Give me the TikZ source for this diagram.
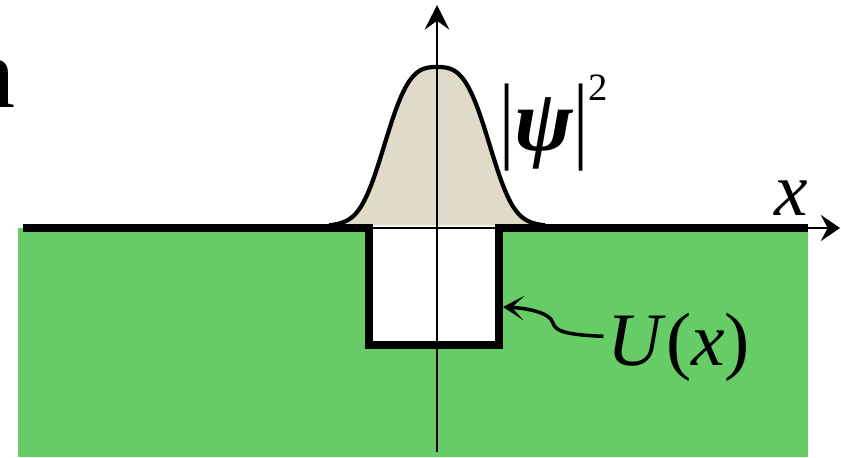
\documentclass[tikz,border=0pt]{standalone}
\usepackage{fontspec}
\setmainfont{Liberation Serif}
\usetikzlibrary{arrows.meta}
\definecolor{wellGreen}{RGB}{102,204,102}
\definecolor{probBeige}{RGB}{224,219,200}
\tikzset{
  wall/.style={line width=4pt, line join=miter},
  bigtext/.style={inner sep=0pt, font=\fontsize{43}{50}\selectfont},
  axisline/.style={line width=0.8pt},
}
\newcommand{\bell}[1]{161*(0.85*exp(-(abs(#1/59)+0.0001)^3.3)+0.15*exp(-(#1/72)^2))}
\newcommand{\tallbar}{\scalebox{1}[1.27]{|}}
\begin{document}
\begin{tikzpicture}[x=0.02cm, y=-0.02cm]
    \useasboundingbox (0,0) rectangle (841,457);
    % Cut-off word at the left edge
    \node[inner sep=0pt, font=\fontsize{57}{64}\selectfont, anchor=base east] (word) at (16,107) {n};
    % Green region and the well
    \fill[wellGreen] (18,228) rectangle (808,457);
    \fill[white] (369,228) rectangle (499,345);
    % Probability density
    \fill[probBeige] plot[domain=-108:108, samples=109] ({437+\x},{228-\bell{\x}}) -- cycle;
    \draw[line width=2.4pt] plot[domain=-108:108, samples=109] ({437+\x},{228-\bell{\x}});
    % Axes
    \coordinate (xleft) at (23,228);
    \coordinate (xright) at (840,228);
    \coordinate (ybot) at (437,452);
    \coordinate (ytop) at (437,5);
    \draw[axisline, -{Stealth[length=11pt,width=15pt,inset=4pt]}] (xleft) -- (xright);
    \draw[axisline, -{Stealth[length=14pt,width=14pt,inset=5pt]}] (ybot) -- (ytop);
    % Potential U(x)
    \draw[wall] (23,228) -- (369,228) -- (369,345) -- (499,345) -- (499,228) -- (808,228);
    % Labels
    \node[bigtext, anchor=base west] (psilabel) at (499,150)
      {\tallbar{\fontsize{50}{56}\selectfont\textbf{\textit{ψ}}}\tallbar\raisebox{28.4pt}{\fontsize{22}{26}\selectfont 2}};
    \node[bigtext, anchor=base west] (xlabel) at (774,215) {\textit{x}};
    \node[bigtext, anchor=base west] (ulabel) at (607,365) {\textit{U}(\textit{x})};
    \coordinate (wallpt) at (503,307);
    \draw[line width=2pt, -{Stealth[length=12pt,width=14pt,inset=7pt]}]
      ([xshift=-2pt,yshift=6pt]ulabel.west) .. controls (570,335) and (555,332) .. (553,323)
      .. controls (550,312) and (525,308) .. (wallpt);
\end{tikzpicture}
\end{document}
